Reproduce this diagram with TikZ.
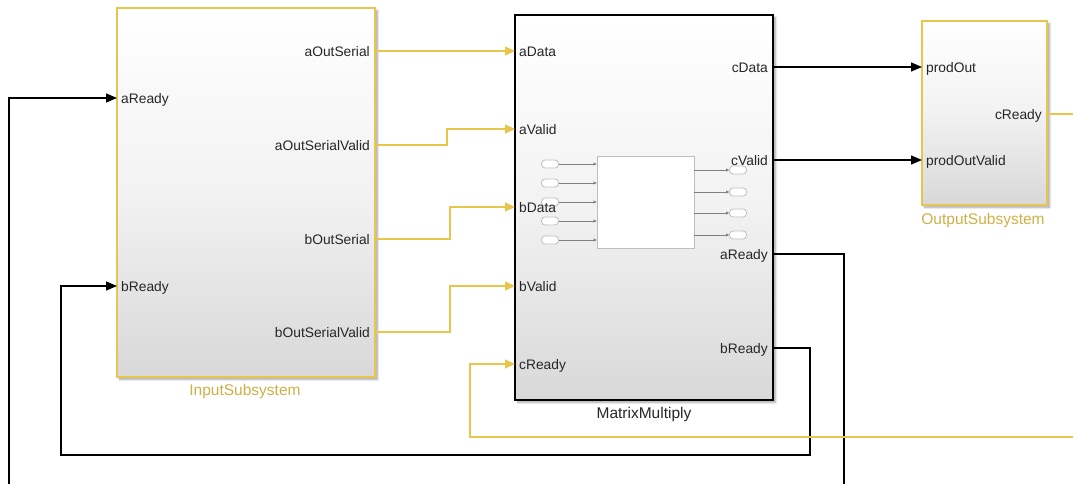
\documentclass[tikz,border=0pt]{standalone}
\usepackage{fontspec}
\setmainfont{Liberation Sans}
\usetikzlibrary{arrows.meta,shadows.blur}

\definecolor{simyel}{RGB}{232,198,78}
\definecolor{simyeltxt}{RGB}{206,176,72}
\definecolor{lbltxt}{RGB}{38,38,38}
\definecolor{shadebot}{RGB}{216,216,216}
\definecolor{shademid}{RGB}{242,242,242}
\definecolor{innergray}{RGB}{190,190,190}

\begin{document}
\begin{tikzpicture}[x=1pt,y=-1pt,
  block/.style={line width=1.3pt, inner sep=0pt, top color=white, bottom color=shadebot, middle color=shademid,
    blur shadow={shadow xshift=2.5pt, shadow yshift=-2.5pt, shadow blur steps=6, shadow opacity=35}},
  portlbl/.style={inner sep=0pt, yshift=-2.5pt, text=lbltxt, font=\fontsize{13.8}{15}\selectfont},
  blkname/.style={inner sep=0pt, font=\fontsize{15.5}{17}\selectfont},
  ctl/.style={line width=1.4pt, draw=black, -{Triangle[length=11pt,width=9pt]}},
  sig/.style={line width=1.3pt, draw=simyel, -{Triangle[length=10pt,width=9pt]}, color=simyel},
  oval/.style={draw=innergray, line width=0.8pt, fill=white, rounded corners=3.5pt, inner sep=0pt,
    minimum width=17pt, minimum height=8pt},
  innerbox/.style={draw=innergray, line width=0.8pt, fill=white, inner sep=0pt},
  innerarrow/.style={draw=gray, line width=0.6pt, -{Triangle[length=3pt,width=3pt]}}
]
\useasboundingbox (0,0) rectangle (1073,484);
\clip (0,0) rectangle (1073,484);

% ---- blocks ----
\node[block, draw=simyel, minimum width=258pt, minimum height=369pt] (inp) at (246,192.5) {};
\node[block, draw=black, line width=1.2pt, minimum width=258pt, minimum height=385pt] (mm) at (644,207.5) {};
\node[block, draw=simyel, minimum width=125pt, minimum height=184pt] (out) at (984.5,113) {};

\node[blkname, text=simyeltxt] (inpname) at (245,391) {InputSubsystem};
\node[blkname, text=lbltxt] (mmname) at (644,414) {MatrixMultiply};
\node[blkname, text=simyeltxt] (outname) at (983,220) {OutputSubsystem};

% ---- port positions ----
\coordinate (inp-aReady) at (117,98);
\coordinate (inp-bReady) at (117,286);
\coordinate (inp-aOS)  at (375,51);
\coordinate (inp-aOSV) at (375,145);
\coordinate (inp-bOS)  at (375,239);
\coordinate (inp-bOSV) at (375,332);

\coordinate (mm-aData)  at (515,51);
\coordinate (mm-aValid) at (515,129);
\coordinate (mm-bData)  at (515,207);
\coordinate (mm-bValid) at (515,286);
\coordinate (mm-cReady) at (515,364);
\coordinate (mm-cData)  at (773,67);
\coordinate (mm-cValid) at (773,160);
\coordinate (mm-aReady) at (773,254);
\coordinate (mm-bReady) at (773,348);

\coordinate (out-prodOut)      at (922,67);
\coordinate (out-prodOutValid) at (922,160);
\coordinate (out-cReady)       at (1047,114);

% ---- inner contents of MatrixMultiply ----
\node[innerbox, minimum width=97pt, minimum height=92pt] (core) at (645.5,202) {};
\node[oval] (i1) at (550,164) {};
\node[oval] (i2) at (550,183) {};
\node[oval] (i3) at (550,202) {};
\node[oval] (i4) at (550,221) {};
\node[oval] (i5) at (550,240) {};
\node[oval] (o1) at (738,170) {};
\node[oval] (o2) at (738,192) {};
\node[oval] (o3) at (738,213) {};
\node[oval] (o4) at (738,235) {};
\foreach \n in {i1,i2,i3,i4,i5}
  \draw[innerarrow] (\n.east) -- (core.west |- \n);
\foreach \n in {o1,o2,o3,o4}
  \draw[innerarrow] (core.east |- \n) -- (\n.west);

% ---- port labels ----
\node[portlbl, anchor=mid west] (l-aReady) at (121,98)  {aReady};
\node[portlbl, anchor=mid west] (l-bReady) at (121,286) {bReady};
\node[portlbl, anchor=mid east] (l-aOS)  at (370,51)  {aOutSerial};
\node[portlbl, anchor=mid east] (l-aOSV) at (370,145) {aOutSerialValid};
\node[portlbl, anchor=mid east] (l-bOS)  at (370,239) {bOutSerial};
\node[portlbl, anchor=mid east] (l-bOSV) at (370,332) {bOutSerialValid};

\node[portlbl, anchor=mid west] (l-aData)  at (519,51)  {aData};
\node[portlbl, anchor=mid west] (l-aValid) at (519,129) {aValid};
\node[portlbl, anchor=mid west] (l-bData)  at (519,207) {bData};
\node[portlbl, anchor=mid west] (l-bValid) at (519,286) {bValid};
\node[portlbl, anchor=mid west] (l-cReadyIn) at (519,364) {cReady};
\node[portlbl, anchor=mid east] (l-cData)  at (768,67)  {cData};
\node[portlbl, anchor=mid east] (l-cValid) at (768,160) {cValid};
\node[portlbl, anchor=mid east] (l-aReadyOut) at (768,254) {aReady};
\node[portlbl, anchor=mid east] (l-bReadyOut) at (768,348) {bReady};

\node[portlbl, anchor=mid west] (l-prodOut)  at (926,67)  {prodOut};
\node[portlbl, anchor=mid west] (l-prodOutV) at (926,160) {prodOutValid};
\node[portlbl, anchor=mid east] (l-cReadyOut) at (1042,114) {cReady};

% ---- connectors ----
\draw[sig] (inp-aOS) -- (mm-aData);
\draw[sig] (inp-aOSV) -- ++(72,0) |- (mm-aValid);
\draw[sig] (inp-bOS)  -- ++(75,0) |- (mm-bData);
\draw[sig] (inp-bOSV) -- ++(75,0) |- (mm-bValid);

\draw[ctl] (mm-cData)  -- (out-prodOut);
\draw[ctl] (mm-cValid) -- (out-prodOutValid);

\coordinate (aLoop) at (844,500);
\coordinate (bLoop) at (810,455);
\coordinate (cLoop) at (1090,437);
\draw[ctl] (mm-aReady) -| (aLoop) -- (9,500) |- (inp-aReady);
\draw[ctl] (mm-bReady) -| (bLoop) -- (61,455) |- (inp-bReady);
\draw[sig] (out-cReady) -| (cLoop) -- (470,437) |- (mm-cReady);
\end{tikzpicture}
\end{document}
